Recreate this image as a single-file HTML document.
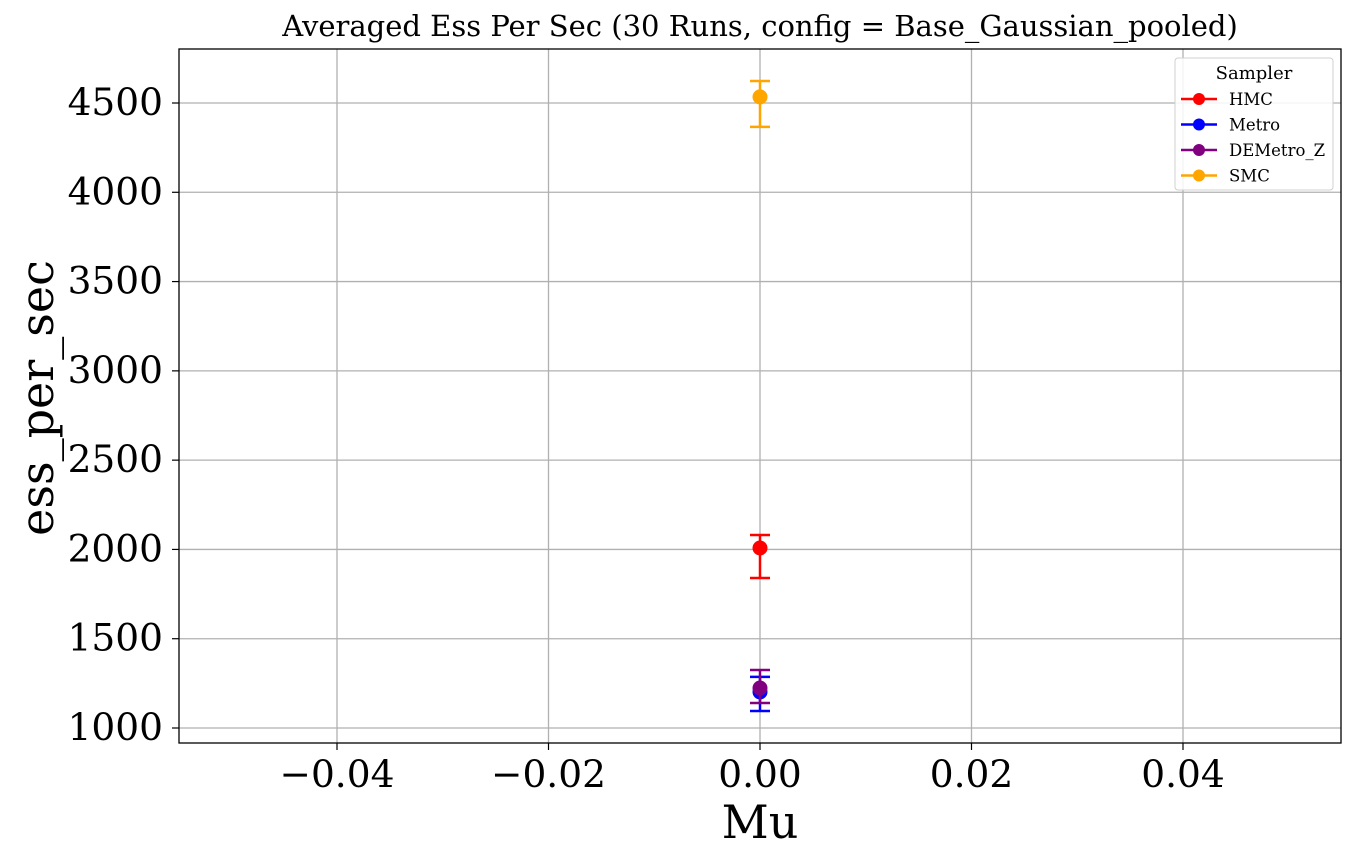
<!DOCTYPE html>
<html><head><meta charset="utf-8"><style>
body{margin:0;background:#fff;font-family:"DejaVu Serif","Liberation Serif",serif;}
svg text{font-family:"DejaVu Serif","Liberation Serif",serif;}
</style></head><body>
<svg id="c" width="1356" height="862" xmlns="http://www.w3.org/2000/svg"></svg>
<script>
const samplers=["HMC","Metro","DEMetro_Z","SMC"];
const colors=["#ff0000","#0000ff","#800080","#ffa500"];
const muValues=[0,0,0,0];
const means=[2008,1202,1224,4534];
const lowers=[1840,1095,1140,4366];
const uppers=[2081,1286,1325,4623];
const xTicks=[-0.04,-0.02,0,0.02,0.04];
const xTickLabels=["\u22120.04","\u22120.02","0.00","0.02","0.04"];
const yTicks=[1000,1500,2000,2500,3000,3500,4000,4500];
const L=179,R=1341,T=49,B=743;
const sx=v=>760+v*10575;
const sy=v=>728-(v-1000)*625/3500;
const svg=document.getElementById('c');
const NS="http://www.w3.org/2000/svg";
function add(tag,attrs,parent,text){const e=document.createElementNS(NS,tag);for(const k in attrs)e.setAttribute(k,attrs[k]);if(text!==undefined)e.textContent=text;(parent||svg).appendChild(e);return e;}
const grid=add('g',{});


xTicks.forEach((t,i)=>{const x=sx(t);
 add('line',{x1:x,x2:x,y1:T,y2:B,stroke:'#b0b0b0','stroke-width':1.3},grid);
 add('line',{x1:x,x2:x,y1:B,y2:B+7,stroke:'#000','stroke-width':1.2});
 const tx=add('text',{x:x,y:787,'font-size':37.5,'text-anchor':'middle'},svg,xTickLabels[i]);
 
 
});
yTicks.forEach(t=>{const y=sy(t);
 add('line',{x1:L,x2:R,y1:y,y2:y,stroke:'#b0b0b0','stroke-width':1.3},grid);
 add('line',{x1:L-7,x2:L,y1:y,y2:y,stroke:'#000','stroke-width':1.2});
 const tx=add('text',{x:163,y:y+12,'font-size':37.5,'text-anchor':'end'},svg,String(t));
 
 
});
samplers.forEach((s,i)=>{
 const g=add('g',{});
 
 
 const x=sx(muValues[i]),c=colors[i];
 add('line',{x1:x,x2:x,y1:sy(lowers[i]),y2:sy(uppers[i]),stroke:c,'stroke-width':2.5},g);
 [lowers[i],uppers[i]].forEach(v=>add('line',{x1:x-10,x2:x+10,y1:sy(v),y2:sy(v),stroke:c,'stroke-width':2.5},g));
 add('circle',{cx:x,cy:sy(means[i]),r:7.5,fill:c},g);
});
const frame=add('rect',{x:L,y:T,width:R-L,height:B-T,fill:'none',stroke:'#000','stroke-width':1.3});


const title=add('text',{x:760,y:36,'font-size':29,'text-anchor':'middle'},svg,'Averaged Ess Per Sec (30 Runs, config = Base_Gaussian_pooled)');


const xl=add('text',{x:760,y:838,'font-size':46,'text-anchor':'middle'},svg,'Mu');


const yl=add('text',{x:0,y:0,'font-size':46,'text-anchor':'middle',transform:'translate(53,398) rotate(-90)'},svg,'ess_per_sec');


const lg=add('g',{});


add('rect',{x:1175,y:58,width:158,height:132,rx:3,fill:'#fff','fill-opacity':0.85,stroke:'#d0d0d0','stroke-width':1},lg);
add('text',{x:1254,y:79,'font-size':18,'text-anchor':'middle'},lg,'Sampler');
samplers.forEach((s,i)=>{const y=99+i*25.5;
 const e=add('g',{},lg);
 
 
 add('line',{x1:1181,x2:1217,y1:y,y2:y,stroke:colors[i],'stroke-width':2.5},e);
 add('circle',{cx:1199,cy:y,r:6,fill:colors[i]},e);
 add('text',{x:1229,y:y+6,'font-size':16.5},e,s);
});
</script>
</body></html>
